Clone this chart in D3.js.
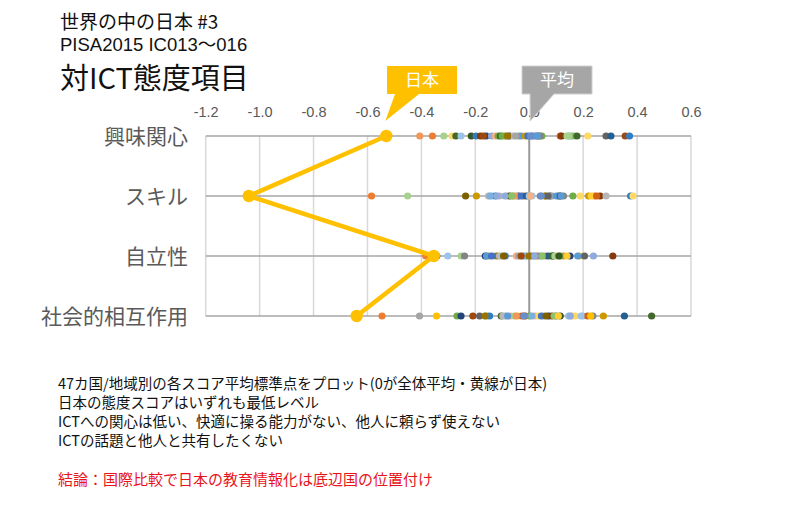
<!DOCTYPE html>
<html><head><meta charset="utf-8">
<script src="https://cdn.jsdelivr.net/npm/d3@7"></script>
<style>
html,body{margin:0;padding:0;background:#fff;}
svg{display:block;font-family:"Noto Sans CJK JP","Noto Sans",sans-serif;}
</style></head>
<body><svg id="c" width="800" height="524"></svg>
<script>
// ---- data ----
const categories = ["興味関心", "スキル", "自立性", "社会的相互作用"];
const japan = [-0.53, -1.04, -0.354, -0.64];
const tickValues = [-1.2, -1.0, -0.8, -0.6, -0.4, -0.2, 0.0, 0.2, 0.4, 0.6];
const tickLabels = ["-1.2", "-1.0", "-0.8", "-0.6", "-0.4", "-0.2", "0.0", "0.2", "0.4", "0.6"];
// other 46 countries per attitude item
const interest = [-0.406, -0.359, -0.317, -0.286, -0.272, -0.253, -0.215, -0.197, -0.181, -0.160,
  -0.140, -0.126, -0.115, -0.107, -0.089, -0.073, -0.060, -0.040, -0.030, -0.015,
  -0.005, 0.010, 0.020, 0.028, 0.035, 0.047, 0.115, 0.120, 0.140, 0.150,
  0.158, 0.165, 0.177, 0.217, 0.285, 0.303, 0.356, 0.372, -0.050, 0.040,
  -0.100, -0.170, 0.145, 0.005, -0.080, 0.030];
const skill = [-0.585, -0.451, -0.236, -0.196, -0.151, -0.138, -0.126, -0.110, -0.083, -0.073,
  -0.060, -0.040, -0.021, -0.002, 0.010, 0.041, 0.059, 0.078, 0.109, 0.127,
  0.162, 0.189, 0.220, 0.242, 0.263, 0.285, 0.376, 0.385, -0.090, -0.050,
  -0.030, -0.010, 0.000, 0.060, 0.085, 0.100, 0.115, 0.230, -0.145, -0.065,
  0.005, 0.070, 0.250, -0.120, 0.045, 0.118];
const autonomy = [-0.384, -0.343, -0.302, -0.253, -0.240, -0.163, -0.151, -0.132, -0.120, -0.104,
  -0.089, -0.048, -0.025, -0.009, 0.006, 0.028, 0.053, 0.078, 0.090, 0.102,
  0.127, 0.151, 0.186, 0.205, 0.238, 0.310, -0.158, -0.140, -0.110, -0.095,
  -0.040, -0.015, 0.015, 0.040, 0.060, 0.070, 0.085, 0.115, 0.140, 0.180,
  -0.030, 0.000, 0.020, 0.048, 0.095, 0.110];
const social = [-0.546, -0.407, -0.344, -0.268, -0.253, -0.209, -0.184, -0.159, -0.147, -0.104,
  -0.089, -0.070, -0.056, -0.040, -0.027, -0.015, 0.001, 0.022, 0.035, 0.053,
  0.072, 0.084, 0.100, 0.115, 0.146, 0.158, 0.170, 0.199, 0.216, 0.236,
  0.275, 0.353, 0.454, -0.164, -0.098, -0.080, -0.048, -0.020, 0.010, 0.045,
  0.062, 0.092, 0.108, 0.152, 0.192, 0.228];
const rowsData = [interest, skill, autonomy, social];
const notes = [
  "47カ国/地域別の各スコア平均標準点をプロット(0が全体平均・黄線が日本)",
  "日本の態度スコアはいずれも最低レベル",
  "ICTへの関心は低い、快適に操る能力がない、他人に頼らず使えない",
  "ICTの話題と他人と共有したくない"
];
const conclusion = "結論：国際比較で日本の教育情報化は底辺国の位置付け";
const titleLines = ["世界の中の日本 #3", "PISA2015 IC013〜016", "対ICT態度項目"];

// ---- styles ----
const palette = ["#5B9BD5","#ED7D31","#A5A5A5","#FFC000","#4472C4","#70AD47",
  "#255E91","#9E480E","#636363","#997300","#264478","#43682B",
  "#7CAFDD","#F1975A","#B7B7B7","#FFCD33","#698ED0","#8CC168",
  "#327DC2","#D26012","#848484","#CC9A00","#9DC3E6","#F4B183",
  "#A9D18E","#FFD966","#8FAADC","#7F6000","#375623","#843C0C"];
const interestColors = [13,1,24,25,11,22,28,18,29,10, 26,23,5,11,9,10,14,2,0,21, 4,6,16,20,8,5,19,29,24,12, 22,17,11,25,8,6,7,18, 2,20, 5,7,24,16,9,0];
const skillColors = [1,24,27,21,14,22,18,14,23,28, 5,10,19,25,22,20,21,10,11,20, 5,25,21,1,29,14,18,25, 26,13, 4,6,22,9,2,0,10,15, 12,17, 23,8,19,26,16,0];
const autonomyColors = [1,28,22,24,20,10,21,22,9,23, 18,23,5,17,21,19,22,24,10,25, 1,10,3,8,26,29, 0,4,14,27, 2,12,16,20,13,6,11,5,15,0, 7,9,26,17,24,28];
const socialColors = [1,2,3,5,10,7,8,21,18,11, 26,23,24,25,19,7,5,23,25,24, 10,29,8,28,22,23,25,22,19,20, 21,6,11, 9,14,0,13,16,12,4, 27,17,15,26,22,3];
const rowColors = [interestColors, skillColors, autonomyColors, socialColors];

// ---- drawing ----
const svg = d3.select("#c");
const x = d3.scaleLinear().domain([-1.2, 0.6]).range([205.7, 691]);
const y = d3.scalePoint().domain(categories).range([136, 316]);
const gold = "#FFC000";

// titles
const tFont = [19, 18.5, 29];
const tY = [29, 51, 89];
const tFam = ["'Noto Sans CJK JP'", "'Liberation Sans', 'Noto Sans CJK JP'", "'Noto Sans CJK JP'"];
svg.append("g").selectAll("text").data(titleLines).join("text")
  .attr("x", 60).attr("y", (d,i)=>tY[i])
  .attr("font-size", (d,i)=>tFont[i]+"px")
  .attr("font-family", (d,i)=>tFam[i])
  .attr("fill", "#111")
  .text(d=>d);

// vertical gridlines
svg.append("g").selectAll("line").data(tickValues.filter(v=>v!==0)).join("line")
  .attr("x1", d=>x(d)).attr("x2", d=>x(d))
  .attr("y1", y(categories[0])).attr("y2", y(categories[3]))
  .attr("stroke", "#d9d9d9").attr("stroke-width", 1.5);
// horizontal row lines
svg.append("g").selectAll("line").data(categories).join("line")
  .attr("x1", x(-1.2)).attr("x2", x(0.6))
  .attr("y1", d=>y(d)).attr("y2", d=>y(d))
  .attr("stroke", "#a6a6a6").attr("stroke-width", 1.5);
// zero line
svg.append("line")
  .attr("x1", x(0)).attr("x2", x(0))
  .attr("y1", y(categories[0])).attr("y2", y(categories[3]))
  .attr("stroke", "#9a9a9a").attr("stroke-width", 2);

// top axis labels
const axis = d3.axisTop(x).tickValues(tickValues).tickSize(0)
  .tickFormat((d,i)=>tickLabels[i]);
const ag = svg.append("g").attr("transform", "translate(0,112)").call(axis);
ag.select(".domain").remove();
ag.selectAll("text").attr("font-size", "14.5px").attr("fill", "#595959")
  .attr("font-family", "'Liberation Sans', Arial, sans-serif")
  .attr("dy", "0.55em");

// category labels
svg.append("g").selectAll("text").data(categories).join("text")
  .attr("x", 188).attr("y", d=>y(d)).attr("dy", "0.36em")
  .attr("text-anchor", "end").attr("font-size", "21px").attr("fill", "#5a5a5a")
  .text(d=>d);

// country dots
rowsData.forEach((vals, r) => {
  svg.append("g").selectAll("circle").data(vals).join("circle")
    .attr("cx", d=>x(d)).attr("cy", y(categories[r])).attr("r", 3.6)
    .attr("fill", (d,i)=>palette[rowColors[r][i] % palette.length]);
});

// Japan line
const jp = categories.map((c,i)=>({c, v: japan[i]}));
svg.append("path").datum(jp)
  .attr("d", d3.line().x(d=>x(d.v)).y(d=>y(d.c)))
  .attr("fill", "none").attr("stroke", gold).attr("stroke-width", 4.5)
  .attr("stroke-linejoin", "round");
svg.append("g").selectAll("circle").data(jp).join("circle")
  .attr("cx", d=>x(d.v)).attr("cy", d=>y(d.c)).attr("r", 6.2).attr("fill", gold);

// callouts
function callout(tipX, cx, fill, stroke, label) {
  const g = svg.append("g");
  const left = cx - 35, right = cx + 35, top = 66, bot = 94;
  const tip = [tipX, 121];
  g.append("path")
    .attr("d", `M${left},${top}H${right}V${bot}H${left + 32}L${tip[0]},${tip[1]}L${left + 8},${bot}H${left}Z`)
    .attr("fill", fill).attr("stroke", stroke).attr("stroke-width", 1);
  g.append("text").attr("x", cx).attr("y", 80).attr("dy", "0.36em")
    .attr("text-anchor", "middle").attr("fill", "#fff").attr("font-size", "17px")
    .text(label);
}
callout(x(japan[0]) - 1, 422, gold, "none", "日本");
callout(x(0) + 1, 557, "#a6a6a6", "#d0d0d0", "平均");

// notes
const nY = [389, 408, 427, 446];
svg.append("g").selectAll("text").data(notes).join("text")
  .attr("x", 58).attr("y", (d,i)=>nY[i]).attr("font-size", "14.5px").attr("fill", "#111")
  .text(d=>d);
svg.append("text").attr("x", 58).attr("y", 485).attr("font-size", "15px")
  .attr("fill", "#e8141c").text(conclusion);
</script></body></html>
